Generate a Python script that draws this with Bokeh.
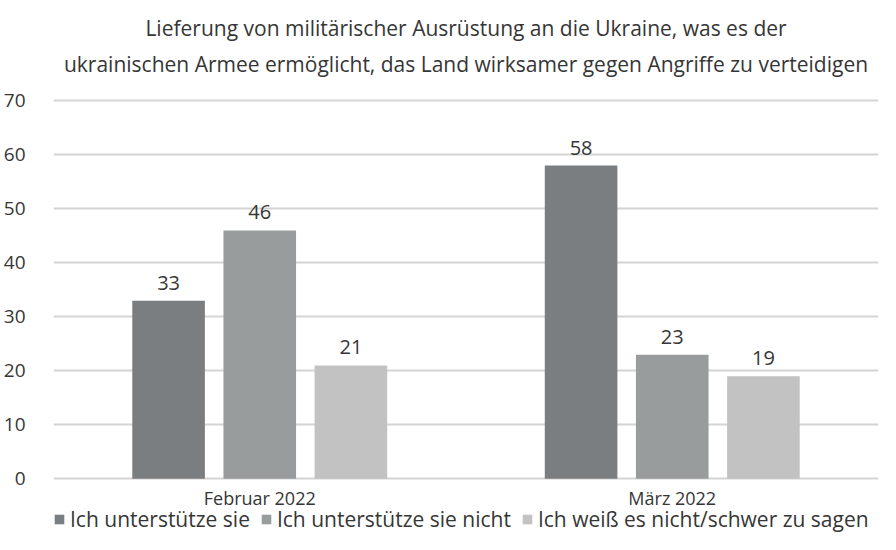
from bokeh.plotting import figure
from bokeh.models import ColumnDataSource, FactorRange, LabelSet, Legend, LegendItem, Title, FixedTicker, Range1d
from bokeh.core.properties import value
from bokeh.transform import dodge
from bokeh.embed import file_html
from bokeh.resources import INLINE

months = ["Februar 2022", "März 2022"]
series = ["Ich unterstütze sie", "Ich unterstütze sie nicht", "Ich weiß es nicht/schwer zu sagen"]
support = [33, 58]
oppose = [46, 23]
unsure = [21, 19]
baseline = [0, 0]
colors = ["#7b7e80", "#999c9c", "#c1c2c1"]
yticks = [0, 10, 20, 30, 40, 50, 60, 70]
title_lines = ["Lieferung von militärischer Ausrüstung an die Ukraine, was es der",
               "ukrainischen Armee ermöglicht, das Land wirksamer gegen Angriffe zu verteidigen"]

FONT = "Open Sans"
TXT = "#363636"

src = ColumnDataSource(dict(month=months, s0=support, s1=oppose, s2=unsure, base=baseline))

p = figure(x_range=FactorRange(*months), y_range=Range1d(-10.3, 73.2),
           width=880, height=534,
           output_backend="svg", toolbar_location=None,
           min_border_left=47, min_border_right=2, min_border_top=83, min_border_bottom=0)

# Titles: the first one added sits nearest the plot
stand = {0: 0, 1: 12}
for i in (1, 0):
    t = Title(text=title_lines[i], align="center", text_font=FONT, text_font_size="21px",
              text_font_style="normal", text_color=TXT, standoff=stand[i])
    p.add_layout(t, "above")

offsets = [-0.221, 0.0, 0.221]
keys = ["s0", "s1", "s2"]
items = []
for k, off, c, name in zip(keys, offsets, colors, series):
    r = p.vbar(x=dodge("month", off, range=p.x_range), top=k, width=0.176, source=src,
               fill_color=c, line_color=None)
    items.append(LegendItem(label=name, renderers=[r]))
    lbl = LabelSet(x=dodge("month", off, range=p.x_range), y=k, text=k, source=src,
                   text_align="center", text_baseline="bottom", y_offset=11,
                   text_font=value(FONT), text_font_size=value("20px"), text_color=TXT)
    p.add_layout(lbl)

# category labels under the zero line
cat = LabelSet(x="month", y="base", text="month", source=src,
               text_align="center", text_baseline="middle", y_offset=-19,
               text_font=value(FONT), text_font_size=value("18px"), text_color=TXT)
p.add_layout(cat)

p.xgrid.grid_line_color = None
p.ygrid.grid_line_color = "#d4d4d4"
p.ygrid.grid_line_width = 2
p.yaxis.ticker = FixedTicker(ticks=yticks)
p.outline_line_color = None
p.xaxis.visible = False

ax = p.yaxis
ax.axis_line_color = None
ax.major_tick_line_color = None
ax.minor_tick_line_color = None
ax.major_label_text_font = FONT
ax.major_label_text_color = TXT
ax.major_label_text_font_size = "19px"
ax.major_label_standoff = 22

legend = Legend(items=items, orientation="horizontal", location=(0, 1),
                label_text_font=FONT, label_text_font_size="21px", label_text_color=TXT,
                glyph_width=12, glyph_height=12, spacing=10, label_standoff=5,
                padding=0, margin=0, border_line_color=None, background_fill_alpha=0)
p.add_layout(legend)

open("out.html", "w").write(file_html(p, INLINE))
